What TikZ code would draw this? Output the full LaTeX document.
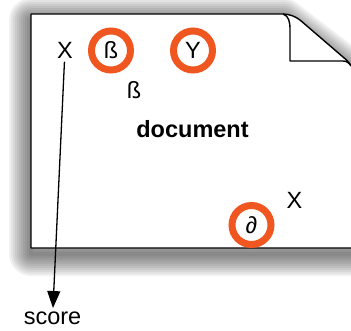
\documentclass[tikz,border=0pt]{standalone}
\usepackage{fontspec}
\setmainfont{Liberation Sans}
\usepackage{tikz}
\usetikzlibrary{arrows.meta,calc,positioning}
\definecolor{ringorange}{RGB}{240,86,32}

\begin{document}
\begin{tikzpicture}[font=\fontsize{23.5}{28}\selectfont,
  ring/.style={circle,draw=ringorange,line width=7pt,minimum size=39pt,inner sep=0pt},
  pageline/.style={black,line width=1.4pt,line join=round}]
\useasboundingbox (0pt,0pt) rectangle (351pt,-330pt);
\foreach \w in {44,40,...,4}
  \draw[black,opacity=0.055,line width=\w pt,line join=round,yshift=-6pt]
    (31pt,-14pt) -- (283pt,-14pt) -- (351pt,-66pt) -- (362pt,-80pt) -- (362pt,-248pt) -- (31pt,-248pt) -- cycle;
\fill[white] (31pt,-14pt) -- (283pt,-14pt) .. controls (290pt,-14pt) and (296pt,-17pt) .. (300pt,-20pt)
  -- (343pt,-57pt) .. controls (347pt,-60pt) and (350pt,-64pt) .. (353pt,-68pt) -- (353pt,-248pt) -- (31pt,-248pt) -- cycle;
\draw[pageline] (353pt,-248pt) -- (31pt,-248pt) -- (31pt,-14pt) -- (283pt,-14pt)
  .. controls (290pt,-14pt) and (296pt,-17pt) .. (300pt,-20pt)
  -- (343pt,-57pt) .. controls (347pt,-60pt) and (350pt,-64pt) .. (353pt,-68pt);
\draw[pageline] (283pt,-14pt) .. controls (289pt,-16pt) and (290pt,-22pt) .. (290pt,-30pt)
  -- (290pt,-61pt) -- (343pt,-61pt) .. controls (347pt,-61pt) and (349pt,-63pt) .. (351pt,-66pt);
\node (1) at (65pt,-50pt) {X};
\node[ring] (2) at (111pt,-50.5pt) {ß};
\node[ring] (3) at (193pt,-50.5pt) {Y};
\node (4) at (134pt,-90pt) {ß};
\node (5) at (192.5pt,-129.5pt) {\bfseries document};
\node[ring] (6) at (251.5pt,-225pt) {∂};
\node (7) at (294.5pt,-200pt) {X};
\node (8) at (52.5pt,-318pt) {score};
\draw[-{Triangle[width=13pt,length=17pt]},line width=1.3pt] (1) -- (8);
\end{tikzpicture}
\end{document}
